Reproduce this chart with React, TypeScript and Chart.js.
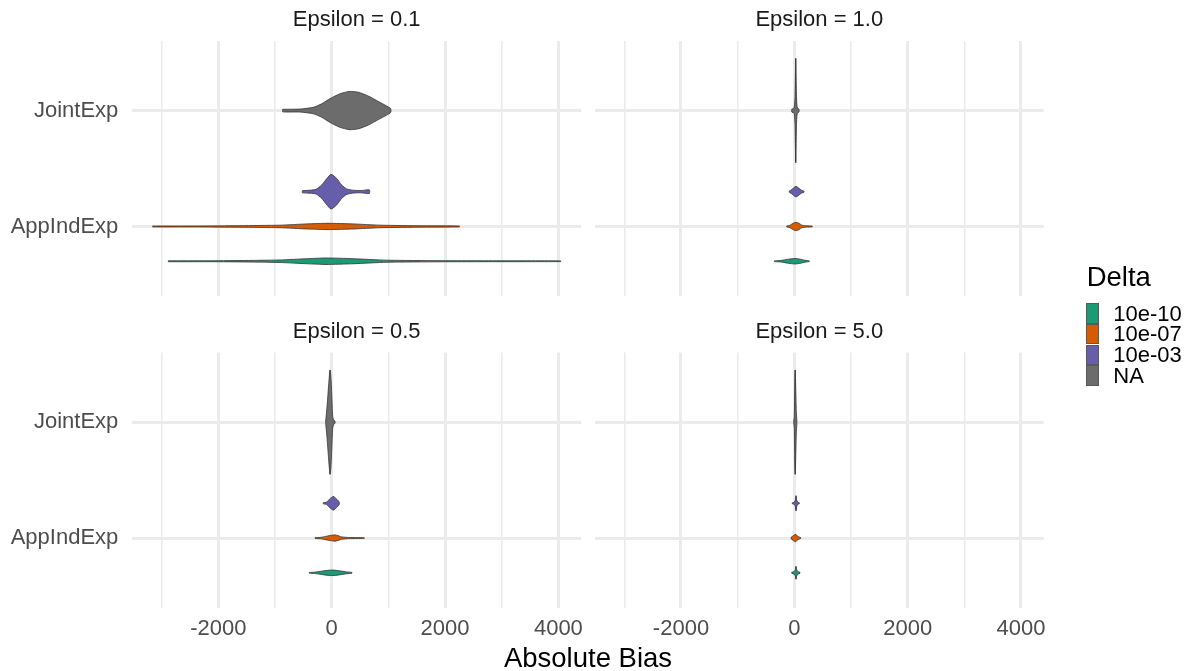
import React, { useEffect, useRef } from "react";
import { Chart, registerables } from "chart.js";

Chart.register(...registerables);

// ---------- categories / labels ----------
const panelTitles = ["Epsilon = 0.1", "Epsilon = 1.0", "Epsilon = 0.5", "Epsilon = 5.0"];
const methods = ["AppIndExp", "JointExp"];
const deltaLabels = ["10e-10", "10e-07", "10e-03", "NA"];
const deltaColors = ["#1B9A75", "#D65C04", "#665EAB", "#6C6C6C"];
const xGridBreaks = [-3000, -2000, -1000, 0, 1000, 2000, 3000, 4000];
const xMajorTicks = [-2000, 0, 2000, 4000];
const xLimits = [-3519, 4401];
const axisTitle = "Absolute Bias";
const legendTitle = "Delta";

// ---------- violin profiles: bias values and half-widths (category units) ----------
// Epsilon = 0.1
const eps01_d10_bias = [-2883, -2200, -1618, -912, -441, -100, 376, 970, 1911, 3000, 4041];
const eps01_d10_width = [0.004, 0.004, 0.006, 0.011, 0.022, 0.028, 0.022, 0.009, 0.005, 0.004, 0.003];
const eps01_d07_bias = [-3159, -2400, -1618, -912, -441, -65, 376, 852, 1611, 2252];
const eps01_d07_width = [0.004, 0.004, 0.007, 0.011, 0.022, 0.027, 0.022, 0.011, 0.006, 0.004];
const eps01_d03_bias = [-518, -382, -276, -177, -88, -12, 88, 176, 265, 382, 529, 664];
const eps01_d03_width = [0.009, 0.013, 0.02, 0.058, 0.112, 0.15, 0.114, 0.058, 0.024, 0.012, 0.01, 0.016];
const eps01_na_bias = [-865, -559, -324, -177, -29, 147, 312, 471, 647, 824, 971, 1041];
const eps01_na_width = [0.011, 0.013, 0.028, 0.058, 0.103, 0.145, 0.165, 0.158, 0.125, 0.078, 0.039, 0.017];
const eps01_medians = [-106, -71, 18, 311];

// Epsilon = 1.0
const eps10_d10_bias = [-353, -250, -194, -100, 12, 100, 189, 265];
const eps10_d10_width = [0.003, 0.006, 0.01, 0.018, 0.024, 0.018, 0.008, 0.003];
const eps10_d07_bias = [-134, -90, -46, 0, 30, 80, 130, 200, 260, 318];
const eps10_d07_width = [0.004, 0.008, 0.02, 0.032, 0.036, 0.028, 0.012, 0.006, 0.005, 0.003];
const eps10_d03_bias = [-88, -40, 0, 30, 80, 130, 171];
const eps10_d03_width = [0.005, 0.02, 0.038, 0.046, 0.03, 0.012, 0.004];
const eps10_na_bias = [-46, -20, 0, 12, 20, 25, 30, 38, 50, 70, 83];
const eps10_na_width = [0.012, 0.016, 0.03, 0.12, 0.33, 0.45, 0.33, 0.12, 0.03, 0.016, 0.012];
const eps10_medians = [12, 40, 30, 25];

// Epsilon = 0.5
const eps05_d10_bias = [-395, -300, -206, -100, 18, 130, 265, 358];
const eps05_d10_width = [0.003, 0.006, 0.012, 0.02, 0.024, 0.018, 0.008, 0.003];
const eps05_d07_bias = [-294, -200, -131, -50, 58, 130, 176, 300, 450, 576];
const eps05_d07_width = [0.003, 0.006, 0.012, 0.02, 0.027, 0.018, 0.01, 0.005, 0.004, 0.002];
const eps05_d03_bias = [-148, -100, -78, -30, 29, 80, 120, 134];
const eps05_d03_width = [0.005, 0.008, 0.015, 0.04, 0.059, 0.04, 0.02, 0.008];
const eps05_na_bias = [-106, -85, -65, -45, -30, -15, 0, 18, 40, 58];
const eps05_na_width = [0.01, 0.12, 0.25, 0.38, 0.45, 0.4, 0.25, 0.05, 0.015, 0.01];
const eps05_medians = [18, 58, 29, -30];

// Epsilon = 5.0
const eps50_d10_bias = [-46, 0, 20, 30, 40, 65, 100];
const eps50_d10_width = [0.004, 0.012, 0.03, 0.055, 0.03, 0.01, 0.004];
const eps50_d07_bias = [-58, -20, 18, 50, 80, 112];
const eps50_d07_width = [0.005, 0.02, 0.032, 0.02, 0.01, 0.004];
const eps50_d03_bias = [-35, 0, 20, 30, 40, 60, 88];
const eps50_d03_width = [0.004, 0.01, 0.03, 0.065, 0.03, 0.01, 0.004];
const eps50_na_bias = [-10, 0, 5, 10, 15, 20, 25, 35, 45];
const eps50_na_width = [0.01, 0.05, 0.2, 0.38, 0.45, 0.4, 0.3, 0.1, 0.01];
const eps50_medians = [30, 18, 30, 15];

// table built from the arrays above (order: 10e-10, 10e-07, 10e-03, NA)
const panelData = [
  { bias: [eps01_d10_bias, eps01_d07_bias, eps01_d03_bias, eps01_na_bias], width: [eps01_d10_width, eps01_d07_width, eps01_d03_width, eps01_na_width], medians: eps01_medians },
  { bias: [eps10_d10_bias, eps10_d07_bias, eps10_d03_bias, eps10_na_bias], width: [eps10_d10_width, eps10_d07_width, eps10_d03_width, eps10_na_width], medians: eps10_medians },
  { bias: [eps05_d10_bias, eps05_d07_bias, eps05_d03_bias, eps05_na_bias], width: [eps05_d10_width, eps05_d07_width, eps05_d03_width, eps05_na_width], medians: eps05_medians },
  { bias: [eps50_d10_bias, eps50_d07_bias, eps50_d03_bias, eps50_na_bias], width: [eps50_d10_width, eps50_d07_width, eps50_d03_width, eps50_na_width], medians: eps50_medians },
];

// ---------- layout ----------
const W = 1190;
const H = 671;
const PANEL_LEFT = [132.3, 594.9];
const PANEL_TOP = [41, 352.6];
const PANEL_W = 448.8;
const PANEL_H = 255;
const TITLE_PAD_TOP = 6.8;
const TITLE_PAD_BOTTOM = 7.8;
const TITLE_SIZE = 22;
const TITLE_H = TITLE_SIZE * 1.2 + TITLE_PAD_TOP + TITLE_PAD_BOTTOM;
const DODGE = 0.3;
const FONT = "'Liberation Sans', Arial, Helvetica, sans-serif";
const OUTLINE = "#333333";

Chart.defaults.font.family = FONT;

function widthAt(bias: number[], width: number[], x: number) {
  for (let i = 0; i < bias.length - 1; i++) {
    if (x >= bias[i] && x <= bias[i + 1]) {
      const t = (x - bias[i]) / (bias[i + 1] - bias[i]);
      return width[i] + t * (width[i + 1] - width[i]);
    }
  }
  return width[0];
}

function Panel({ idx }: { idx: number }) {
  const ref = useRef<HTMLCanvasElement>(null);
  useEffect(() => {
    if (!ref.current) return;
    const col = idx % 2;
    const row = Math.floor(idx / 2);
    const left = PANEL_LEFT[col];
    const top = PANEL_TOP[row];
    const right = left + PANEL_W;
    const bottom = top + PANEL_H;
    const isLeft = col === 0;
    const isBottom = row === 1;
    const pd = panelData[idx];

    const datasets: any[] = [];
    pd.bias.forEach((bias, d) => {
      const width = pd.width[d];
      const center = d === 3 ? 2 : 1 + (d - 1) * DODGE;
      const upper = bias.map((x, i) => ({ x, y: center + width[i] }));
      const lower = bias.map((x, i) => ({ x, y: center - width[i] })).reverse();
      datasets.push({
        label: deltaLabels[d],
        data: [...upper, ...lower, upper[0]],
        showLine: true,
        fill: "shape",
        backgroundColor: deltaColors[d],
        borderColor: OUTLINE,
        borderWidth: 0.8,
        pointRadius: 0,
        tension: 0.2,
      });
      const med = pd.medians[d];
      const mw = widthAt(bias, width, med);
      datasets.push({
        label: deltaLabels[d] + " median",
        data: [
          { x: med, y: center - mw },
          { x: med, y: center + mw },
        ],
        showLine: true,
        fill: false,
        borderColor: OUTLINE,
        borderWidth: 0.9,
        pointRadius: 0,
      });
    });

    const chart = new Chart(ref.current, {
      type: "scatter",
      data: { datasets },
      options: {
        responsive: false,
        animation: false,
        devicePixelRatio: 1,
        events: [],
        layout: {
          padding: {
            left: isLeft ? 0 : left,
            right: W - right,
            top: top - TITLE_H,
            bottom: isBottom ? 0 : H - bottom,
          },
        },
        plugins: {
          legend: { display: false },
          tooltip: { enabled: false },
          title: {
            display: true,
            text: panelTitles[idx],
            fullSize: false,
            color: "#1A1A1A",
            font: { size: TITLE_SIZE, weight: "normal" as any, family: FONT },
            padding: { top: TITLE_PAD_TOP, bottom: TITLE_PAD_BOTTOM },
          },
        },
        scales: {
          x: {
            type: "linear",
            min: xLimits[0],
            max: xLimits[1],
            border: { display: false },
            grid: {
              color: "#EBEBEB",
              drawTicks: false,
              lineWidth: (ctx: any) =>
                ctx.tick && xMajorTicks.includes(ctx.tick.value) ? 3 : 1.6,
            },
            afterBuildTicks: (scale: any) => {
              scale.ticks = xGridBreaks.map((v) => ({ value: v }));
            },
            ticks: {
              display: isBottom,
              autoSkip: false,
              maxRotation: 0,
              padding: 8,
              color: "#4D4D4D",
              font: { size: 22, family: FONT },
              callback: (v: any) => (xMajorTicks.includes(Number(v)) ? String(v) : ""),
            },
            afterFit: (scale: any) => {
              scale.height = isBottom ? H - bottom : 0;
            },
          },
          y: {
            type: "linear",
            min: 0.4,
            max: 2.6,
            border: { display: false },
            grid: { color: "#EBEBEB", drawTicks: false, lineWidth: 3 },
            afterBuildTicks: (scale: any) => {
              scale.ticks = [{ value: 1 }, { value: 2 }];
            },
            ticks: {
              display: isLeft,
              padding: 14,
              color: "#4D4D4D",
              font: { size: 22, family: FONT },
              callback: (v: any) => methods[Math.round(Number(v)) - 1],
            },
            afterFit: (scale: any) => {
              scale.width = isLeft ? left : 0;
            },
          },
        },
      } as any,
    });
    return () => chart.destroy();
  }, [idx]);
  return (
    <canvas
      ref={ref}
      width={W}
      height={H}
      style={{ position: "absolute", left: 0, top: 0, width: W, height: H }}
    />
  );
}

const KEY_TOP = 303.3;
const KEY_H = 20.6;

export default function App() {
  return (
    <div
      style={{
        position: "absolute",
        left: 0,
        top: 0,
        width: W,
        height: H,
        background: "#FFFFFF",
        overflow: "hidden",
        fontFamily: FONT,
      }}
    >
      {[0, 1, 2, 3].map((i) => (
        <Panel key={i} idx={i} />
      ))}
      <div
        style={{
          position: "absolute",
          left: 0,
          width: 2 * 588,
          top: 643.5,
          textAlign: "center",
          fontSize: 27.5,
          lineHeight: "27.5px",
          color: "#000000",
          whiteSpace: "nowrap",
        }}
      >
        {axisTitle}
      </div>
      <div
        style={{
          position: "absolute",
          left: 1086.7,
          top: 262.6,
          fontSize: 27.5,
          lineHeight: "27.5px",
          color: "#000000",
          whiteSpace: "nowrap",
        }}
      >
        {legendTitle}
      </div>
      {deltaLabels.map((lab, i) => (
        <React.Fragment key={lab}>
          <div
            style={{
              position: "absolute",
              left: 1086,
              top: KEY_TOP + i * KEY_H,
              width: 13.3,
              height: KEY_H,
              boxSizing: "border-box",
              border: "1px solid #595959",
              background: deltaColors[i],
            }}
          />
          <div
            style={{
              position: "absolute",
              left: 1113.3,
              top: KEY_TOP + i * KEY_H + KEY_H / 2 - 10.8,
              fontSize: 22,
              lineHeight: "22px",
              color: "#000000",
              whiteSpace: "nowrap",
            }}
          >
            {lab}
          </div>
        </React.Fragment>
      ))}
    </div>
  );
}
